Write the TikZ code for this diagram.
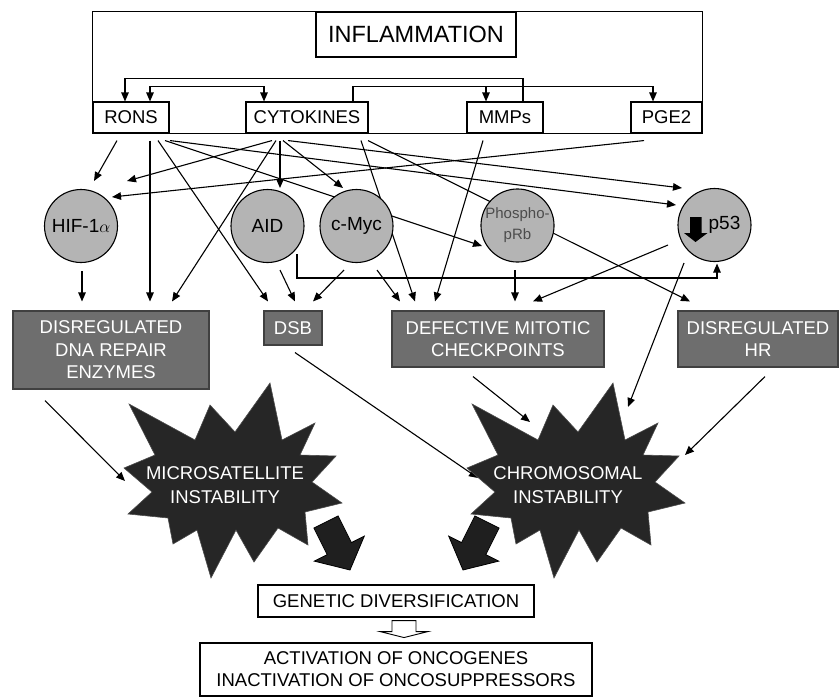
\documentclass[tikz,border=0pt]{standalone}
\usepackage{fontspec}
\setmainfont{Liberation Sans}
\usetikzlibrary{calc, arrows.meta}

\definecolor{circgray}{HTML}{B4B4B4}
\definecolor{boxgray}{HTML}{6E6E6E}
\definecolor{burstgray}{HTML}{262626}

\pgfdeclarelayer{background}
\pgfsetlayers{background,main}

\tikzset{
  plain/.style={line width=1.1pt},
  arr/.style={line width=1.1pt, -{Triangle[length=9pt,width=7.5pt]}},
  dblarr/.style={line width=1.1pt, {Triangle[length=9pt,width=7.5pt]}-{Triangle[length=9pt,width=7.5pt]}},
  topbox/.style={draw, line width=1.1pt, fill=white, inner sep=0pt, align=center, font=\fontsize{18.5}{22}\selectfont},
  circ/.style={circle, draw, line width=1.1pt, fill=circgray, minimum size=73pt, inner sep=0pt, font=\fontsize{19}{22}\selectfont},
  darkbox/.style={draw=black!75, line width=1.1pt, fill=boxgray, text=white, align=center, inner sep=0pt, font=\fontsize{18.5}{22.5}\selectfont},
  burstlabel/.style={text=white, align=center, inner sep=0pt, font=\fontsize{18.5}{24}\selectfont},
  burst/.pic={
    \fill[burstgray, draw=black!70, line width=0.6pt] (-96,-81) -- (-30,-45) -- (-15,-80) -- (10,-53) -- (45,-102) -- (57,-45)
      -- (90,-62) -- (75,-30) -- (111,-29) -- (87,-3) -- (117,18) -- (80,27) -- (83,60) -- (53,43)
      -- (29,77) -- (11,45) -- (-14,93) -- (-28,45) -- (-52,59) -- (-57,33) -- (-97,29) -- (-73,7)
      -- (-101,-17) -- (-70,-30) -- cycle;
  },
  blockarr/.pic={
    \fill[black!88, draw=black, line width=0.8pt, xscale=#1] (12.1,-6) -- (25.4,20.6) -- (38.3,14.1) -- (24,48)
      -- (-11.7,39.1) -- (1.2,32.6) -- (-12.1,6) -- cycle;
  },
  hollowarr/.pic={
    \draw[fill=white, line width=0.9pt] (-12,0) -- (12,0) -- (12,11) -- (24,11) -- (0,17) -- (-24,11) -- (-12,11) -- cycle;
  }
}

\begin{document}
\begin{tikzpicture}[x=1pt, y=-1pt]
\useasboundingbox (0,0) rectangle (840,697);

\node[topbox, minimum width=200pt, minimum height=45pt, font=\fontsize{23.5}{26}\selectfont] (infl) at (416,34.5) {INFLAMMATION};
\node[topbox, minimum width=76pt, minimum height=31pt] (rons) at (131,117.5) {RONS};
\node[topbox, minimum width=122pt, minimum height=31pt] (cyt) at (307,117.5) {CYTOKINES};
\node[topbox, minimum width=76pt, minimum height=31pt] (mmps) at (505,117.5) {MMPs};
\node[topbox, minimum width=71pt, minimum height=31pt] (pge) at (666.5,117.5) {PGE2};

\node[circ] (hif) at (81,226) {HIF-1$\alpha$};
\node[circ] (aid) at (267.5,226) {AID};
\node[circ] (cmyc) at (356.5,226) {c-Myc};
\node[circ, text=black!70, align=center, font=\fontsize{15}{21}\selectfont] (prb) at (517.5,225.5) {Phospho-\\pRb};
\node[circ] (p53) at (714.5,225) {\hspace*{20pt}p53};
\fill[shift={(p53)}] (-24.5,-8) -- (-13,-8) -- (-13,8) -- (-7,8) -- (-19,17) -- (-30.5,8) -- (-24.5,8) -- cycle;

\node[darkbox, minimum width=196pt, minimum height=78pt] (dna) at (111,350) {DISREGULATED\\DNA REPAIR\\ENZYMES};
\node[darkbox, minimum width=58pt, minimum height=34pt] (dsb) at (293,328) {DSB};
\node[darkbox, minimum width=212pt, minimum height=56pt] (def) at (498,339) {DEFECTIVE MITOTIC\\CHECKPOINTS};
\node[darkbox, minimum width=160pt, minimum height=56pt] (hr) at (758,339) {DISREGULATED\\HR};

\pic at (225,485) {burst};
\pic at (568,485) {burst};
\node[burstlabel] (micro) at (225,485) {MICROSATELLITE\\INSTABILITY};
\node[burstlabel] (chromo) at (568,485) {CHROMOSOMAL\\INSTABILITY};

\node[topbox, minimum width=276pt, minimum height=32pt] (gen) at (396,601) {GENETIC DIVERSIFICATION};
\node[topbox, minimum width=392pt, minimum height=53pt] (act) at (396,669.5) {ACTIVATION OF ONCOGENES\\INACTIVATION OF ONCOSUPPRESSORS};

\pic at ($(micro)+(101,37)$) {blockarr=1};
\pic at ($(chromo)+(-81,37)$) {blockarr=-1};
\pic at ($(gen.south)+(8,3)$) {hollowarr};

\begin{pgfonlayer}{background}
\draw[plain] (rons.south west) rectangle (infl.north -| pge.east);
\draw[arr] ($(mmps.north)+(18,0)$) -- ++(0,-23) -| ($(rons.north)+(-6,0)$);
\draw[dblarr] ($(rons.north)+(19,0)$) -- ++(0,-15) -| ($(cyt.north)+(-43,0)$);
\draw[arr] ($(cyt.north)+(46,0)$) -- ++(0,-15) -| ($(pge.north)+(-13.5,0)$);
\draw[arr] ($(mmps.north)+(-19,-15)$) -- ($(mmps.north)+(-19,0)$);

\draw[arr] ($(rons.south)+(-14,7)$) -- ($(hif)+(13,-45)$);
\draw[arr] ($(rons.south)+(19,7)$) -- ($(dna.north)+(39,-9)$);
\draw[arr] ($(rons.south)+(27,7)$) -- ($(dsb.north)+(-25,-9)$);
\draw[arr] ($(rons.south)+(34,7)$) -- ($(prb)+(-35.5,20.5)$);
\draw[arr] ($(rons.south)+(39,7)$) -- ($(p53)+(-38.5,-20)$);
\draw[arr] ($(cyt.south)+(-35,7)$) -- ($(hif)+(46,-45)$);
\draw[arr] ($(cyt.south)+(-31,7)$) -- ($(dna.north)+(61,-9)$);
\draw[arr] ($(cyt.south)+(-27,7)$) -- ($(aid)+(12.5,-38)$);
\draw[arr] ($(cyt.south)+(-24,7)$) -- ($(cmyc)+(-13.5,-38)$);
\draw[arr] ($(cyt.south)+(-19,7)$) -- ($(p53)+(-32.5,-37)$);
\draw[arr] ($(cyt.south)+(54,7)$) -- ($(def.north)+(-83,-9)$);
\draw[arr] ($(cyt.south)+(61,7)$) -- ($(hr.north)+(-68,-9)$);
\draw[arr] ($(mmps.south)+(-22,7)$) -- ($(def.north)+(-63,-9)$);
\draw[arr] ($(pge.south)+(-22.5,7)$) -- ($(hif)+(31,-29)$);

\draw[arr] ($(hif.south)+(1,8)$) -- ($(dna.north)+(-29,-9)$);
\draw[arr] ($(aid)+(12.5,44)$) -- ($(dsb.north)+(2,-9)$);
\draw[arr] ($(cmyc)+(-12.5,44)$) -- ($(dsb.north)+(20,-9)$);
\draw[arr] ($(aid)+(29.5,28)$) -- ($(aid)+(29.5,52)$) -| ($(p53.south)+(2.5,1.5)$);
\draw[arr] ($(cmyc)+(20.5,44)$) -- ($(def.north)+(-98,-9)$);
\draw[arr] ($(prb)+(-2.5,44.5)$) -- ($(def.north)+(17,-9)$);
\draw[arr] ($(p53)+(-46.5,20)$) -- ($(def.north)+(35,-9)$);
\draw[arr] ($(p53)+(-30.5,38)$) -- ($(chromo)+(60,-78)$);

\draw[arr] ($(dna.south)+(-66,11)$) -- ($(micro)+(-100,-4)$);
\draw[arr] ($(dsb.south)+(2,7)$) -- ($(chromo)+(-90,-7)$);
\draw[arr] ($(def.south)+(-25,9)$) -- ($(chromo)+(-38,-63)$);
\draw[arr] ($(hr.south)+(7,9)$) -- ($(chromo)+(117,-30)$);
\end{pgfonlayer}
\end{tikzpicture}
\end{document}
